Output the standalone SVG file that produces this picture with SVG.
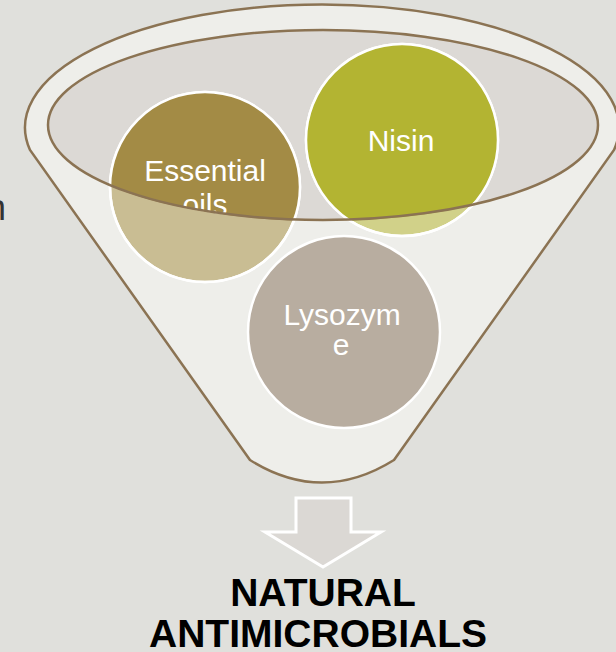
<svg xmlns="http://www.w3.org/2000/svg" width="616" height="652" viewBox="0 0 616 652">
<style>
.lbl{font-family:"Liberation Sans",Arial,sans-serif;font-size:30px;fill:#ffffff;text-anchor:middle}
.big{font-family:"Liberation Sans",Arial,sans-serif;font-size:39px;font-weight:bold;fill:#000000;text-anchor:middle}
.ring{stroke:#ffffff;stroke-width:2.5}
.brown{fill:none;stroke:#8b7353;stroke-width:2.5}
</style>
<defs>
<clipPath id="inner"><ellipse cx="323" cy="125" rx="275" ry="96"/></clipPath>
</defs>
<rect width="616" height="652" fill="#e0e0dc"/>
<text x="-14" y="220" font-family="Liberation Sans, Arial, sans-serif" font-size="36" fill="#333333">n</text>
<g id="funnel">
<path d="M30,150 A297,123 0 1 1 614,150 L394,460 Q322,505 250,460 Z" fill="#eeeeea"/>
<ellipse cx="323" cy="125" rx="275" ry="95" fill="#dcd9d5"/>
</g>
<g id="node-essential-oils">
<circle cx="205" cy="187" r="95" fill="#c9bd93" class="ring"/>
<g clip-path="url(#inner)">
<circle cx="205" cy="187" r="95" fill="#a38b45"/>
<text class="lbl" x="205" y="181">Essential</text>
<text class="lbl" x="205" y="215">oils</text>
</g>
<circle cx="205" cy="187" r="95" fill="none" class="ring"/>
</g>
<g id="node-nisin">
<circle cx="402" cy="140" r="96" fill="#d1d189" class="ring"/>
<g clip-path="url(#inner)">
<circle cx="402" cy="140" r="96" fill="#b3b432"/>
</g>
<circle cx="402" cy="140" r="96" fill="none" class="ring"/>
<text class="lbl" x="401" y="151">Nisin</text>
</g>
<g id="node-lysozyme">
<circle cx="344" cy="332" r="96" fill="#b8ada0" class="ring"/>
<text class="lbl" x="342" y="325" fill="#f4f1ec">Lysozym</text>
<text class="lbl" x="341" y="355">e</text>
</g>
<g id="funnel-outline">
<ellipse cx="323" cy="125" rx="275" ry="95" class="brown"/>
<path d="M30,150 A297,123 0 1 1 614,150 L394,460 Q322,505 250,460 Z" class="brown"/>
</g>
<g id="connectors">
<path d="M296,498 L351,498 L351,532 L381,532 L323,567 L265,532 L296,532 Z" fill="#dbd8d4" stroke="#ffffff" stroke-width="3"/>
</g>
<g id="node-result">
<text class="big" x="323" y="606">NATURAL</text>
<text class="big" x="318" y="647">ANTIMICROBIALS</text>
</g>
</svg>
